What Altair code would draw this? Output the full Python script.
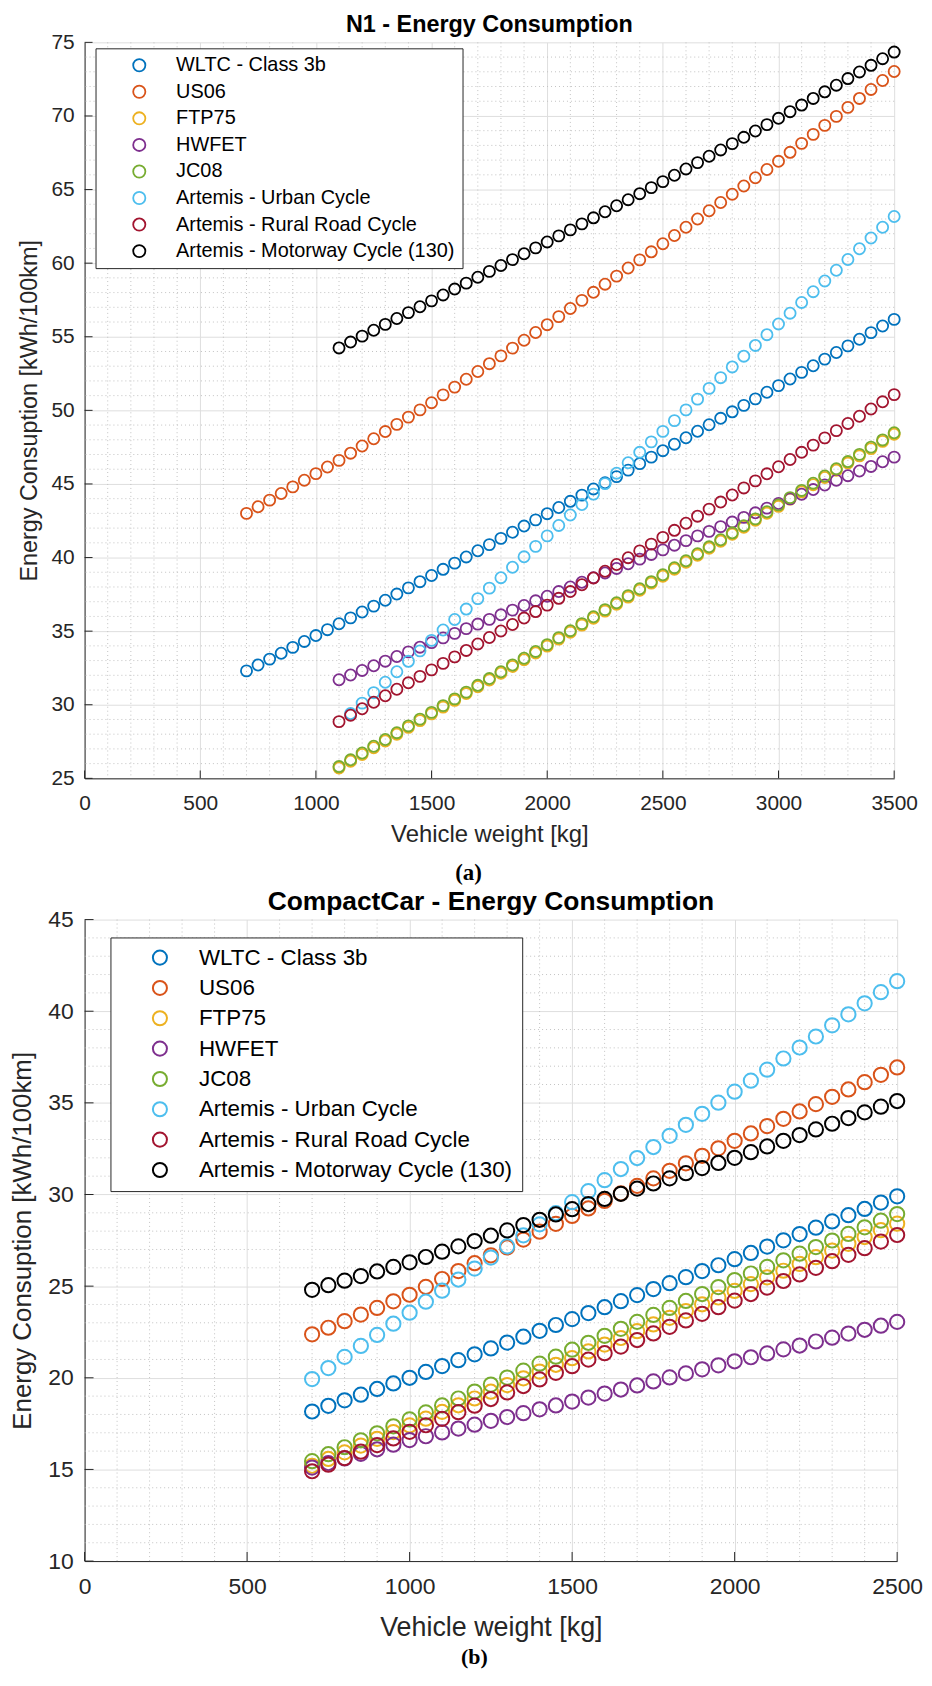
import altair as alt
import pandas as pd

FONT = "Liberation Sans"
INK = "#262626"

SERIES = ["WLTC - Class 3b", "US06", "FTP75", "HWFET", "JC08",
          "Artemis - Urban Cycle", "Artemis - Rural Road Cycle",
          "Artemis - Motorway Cycle (130)"]
COLORS = ["#0072BD", "#D95319", "#EDB120", "#7E2F8E", "#77AC30",
          "#4DBEEE", "#A2142F", "#000000"]

# vehicle weights [kg] (markers every 50 kg)
WEIGHT = [700, 750, 800, 850, 900, 950, 1000, 1050, 1100, 1150, 1200, 1250,
          1300, 1350, 1400, 1450, 1500, 1550, 1600, 1650, 1700, 1750, 1800,
          1850, 1900, 1950, 2000, 2050, 2100, 2150, 2200, 2250, 2300, 2350,
          2400, 2450, 2500, 2550, 2600, 2650, 2700, 2750, 2800, 2850, 2900,
          2950, 3000, 3050, 3100, 3150, 3200, 3250, 3300, 3350, 3400, 3450, 3500]

# ---------------- (a) N1 (series end at 3500 kg) ----------------
N1_WLTC = [32.30, 32.70, 33.10, 33.50, 33.90, 34.30, 34.70, 35.10, 35.50, 35.90,
           36.30, 36.70, 37.10, 37.52, 37.94, 38.36, 38.78, 39.20, 39.62, 40.04,
           40.46, 40.88, 41.30, 41.72, 42.14, 42.56, 42.98, 43.40, 43.82, 44.24,
           44.66, 45.08, 45.50, 45.94, 46.38, 46.82, 47.26, 47.70, 48.14, 48.58,
           49.02, 49.46, 49.90, 50.34, 50.78, 51.23, 51.68, 52.13, 52.58, 53.03,
           53.48, 53.93, 54.38, 54.83, 55.28, 55.73, 56.18]
N1_US06 = [43.00, 43.45, 43.90, 44.35, 44.80, 45.25, 45.70, 46.15, 46.60, 47.09,
           47.58, 48.07, 48.56, 49.05, 49.54, 50.03, 50.52, 51.05, 51.58, 52.11,
           52.64, 53.17, 53.70, 54.23, 54.76, 55.29, 55.82, 56.37, 56.92, 57.47,
           58.02, 58.57, 59.12, 59.67, 60.22, 60.77, 61.32, 61.88, 62.44, 63.00,
           63.56, 64.12, 64.68, 65.24, 65.80, 66.36, 66.92, 67.53, 68.14, 68.75,
           69.36, 69.97, 70.58, 71.19, 71.80, 72.41, 73.02]
N1_FTP75 = [25.70, 26.16, 26.62, 27.08, 27.54, 28.00, 28.46, 28.92, 29.38, 29.84,
            30.30, 30.76, 31.22, 31.68, 32.14, 32.60, 33.06, 33.52, 33.98, 34.46,
            34.93, 35.41, 35.88, 36.36, 36.83, 37.31, 37.78, 38.26, 38.73, 39.21,
            39.68, 40.16, 40.63, 41.11, 41.58, 42.06, 42.53, 43.01, 43.48, 43.97,
            44.46, 44.95, 45.44, 45.93, 46.42, 46.91, 47.40, 47.89, 48.38]
N1_HWFET = [31.70, 32.02, 32.33, 32.65, 32.96, 33.28, 33.59, 33.91, 34.22, 34.54,
            34.85, 35.17, 35.48, 35.80, 36.11, 36.43, 36.74, 37.06, 37.37, 37.69,
            38.00, 38.32, 38.63, 38.95, 39.26, 39.58, 39.89, 40.21, 40.52, 40.84,
            41.15, 41.47, 41.78, 42.10, 42.41, 42.73, 43.04, 43.36, 43.67, 43.99,
            44.30, 44.62, 44.93, 45.25, 45.56, 45.88, 46.19, 46.51, 46.82]
N1_JC08 = [25.80, 26.26, 26.72, 27.18, 27.64, 28.10, 28.56, 29.02, 29.48, 29.94,
           30.40, 30.86, 31.32, 31.78, 32.24, 32.70, 33.16, 33.62, 34.08, 34.56,
           35.03, 35.51, 35.98, 36.46, 36.93, 37.41, 37.88, 38.36, 38.83, 39.31,
           39.78, 40.26, 40.73, 41.21, 41.68, 42.16, 42.63, 43.11, 43.58, 44.07,
           44.56, 45.05, 45.54, 46.03, 46.52, 47.01, 47.50, 47.99, 48.48]
N1_URBAN = [29.40, 30.11, 30.82, 31.53, 32.24, 32.95, 33.66, 34.37, 35.08, 35.79,
            36.50, 37.21, 37.92, 38.63, 39.34, 40.05, 40.76, 41.47, 42.18, 42.89,
            43.60, 44.31, 45.02, 45.73, 46.44, 47.15, 47.86, 48.57, 49.30, 50.03,
            50.76, 51.49, 52.22, 52.95, 53.68, 54.41, 55.14, 55.87, 56.60, 57.33,
            58.06, 58.79, 59.52, 60.25, 60.98, 61.71, 62.44, 63.17]
N1_RURAL = [28.85, 29.29, 29.73, 30.17, 30.61, 31.05, 31.49, 31.93, 32.37, 32.81,
            33.25, 33.69, 34.13, 34.57, 35.01, 35.45, 35.89, 36.33, 36.77, 37.23,
            37.69, 38.15, 38.61, 39.07, 39.53, 39.99, 40.45, 40.91, 41.37, 41.85,
            42.33, 42.81, 43.29, 43.77, 44.25, 44.73, 45.21, 45.69, 46.17, 46.66,
            47.15, 47.64, 48.13, 48.62, 49.11, 49.60, 50.09, 50.58, 51.07]
N1_MOTORWAY = [54.24, 54.64, 55.04, 55.44, 55.84, 56.24, 56.64, 57.04, 57.44, 57.84,
               58.24, 58.64, 59.04, 59.44, 59.84, 60.24, 60.64, 61.04, 61.44, 61.85,
               62.26, 62.67, 63.08, 63.49, 63.90, 64.31, 64.72, 65.13, 65.54, 65.97,
               66.40, 66.83, 67.26, 67.69, 68.12, 68.55, 68.98, 69.41, 69.84, 70.29,
               70.74, 71.19, 71.64, 72.09, 72.54, 72.99, 73.44, 73.89, 74.34]

# ---------------- (b) CompactCar (700 .. 2500 kg) ----------------
CC_WLTC = [18.16, 18.47, 18.77, 19.08, 19.39, 19.69, 20.00, 20.32, 20.64, 20.96,
           21.28, 21.60, 21.92, 22.24, 22.56, 22.88, 23.20, 23.53, 23.85, 24.18,
           24.51, 24.84, 25.16, 25.49, 25.82, 26.14, 26.47, 26.81, 27.16, 27.50,
           27.84, 28.19, 28.53, 28.87, 29.21, 29.56, 29.90]
CC_US06 = [22.37, 22.73, 23.09, 23.45, 23.81, 24.17, 24.53, 24.96, 25.39, 25.82,
           26.25, 26.68, 27.11, 27.54, 27.97, 28.40, 28.83, 29.24, 29.65, 30.06,
           30.47, 30.88, 31.29, 31.70, 32.11, 32.52, 32.93, 33.33, 33.73, 34.13,
           34.53, 34.93, 35.33, 35.73, 36.13, 36.53, 36.93]
CC_FTP75 = [15.20, 15.57, 15.93, 16.30, 16.67, 17.04, 17.40, 17.77, 18.14, 18.50,
            18.87, 19.24, 19.60, 19.97, 20.34, 20.71, 21.07, 21.44, 21.81, 22.17,
            22.54, 22.91, 23.27, 23.64, 24.01, 24.38, 24.74, 25.11, 25.48, 25.84,
            26.21, 26.58, 26.94, 27.31, 27.68, 28.05, 28.41]
CC_HWFET = [15.10, 15.35, 15.60, 15.85, 16.10, 16.35, 16.60, 16.81, 17.02, 17.23,
            17.44, 17.65, 17.86, 18.07, 18.28, 18.49, 18.70, 18.92, 19.14, 19.36,
            19.58, 19.80, 20.02, 20.24, 20.46, 20.68, 20.90, 21.12, 21.33, 21.55,
            21.76, 21.98, 22.19, 22.41, 22.62, 22.84, 23.05]
CC_JC08 = [15.45, 15.83, 16.21, 16.59, 16.97, 17.35, 17.73, 18.11, 18.49, 18.87,
           19.25, 19.63, 20.01, 20.39, 20.77, 21.15, 21.53, 21.91, 22.29, 22.67,
           23.05, 23.43, 23.81, 24.19, 24.57, 24.95, 25.33, 25.69, 26.05, 26.41,
           26.77, 27.13, 27.49, 27.85, 28.21, 28.57, 28.93]
CC_URBAN = [19.93, 20.53, 21.14, 21.74, 22.34, 22.95, 23.55, 24.15, 24.75, 25.36,
            25.96, 26.56, 27.17, 27.77, 28.37, 28.98, 29.58, 30.18, 30.78, 31.39,
            31.99, 32.59, 33.20, 33.80, 34.40, 35.01, 35.61, 36.21, 36.81, 37.42,
            38.02, 38.62, 39.23, 39.83, 40.43, 41.04, 41.64]
CC_RURAL = [14.90, 15.26, 15.62, 15.97, 16.33, 16.69, 17.05, 17.41, 17.76, 18.12,
            18.48, 18.84, 19.20, 19.55, 19.91, 20.27, 20.63, 20.99, 21.34, 21.70,
            22.06, 22.42, 22.78, 23.13, 23.49, 23.85, 24.21, 24.57, 24.92, 25.28,
            25.64, 26.00, 26.36, 26.71, 27.07, 27.43, 27.79]
CC_MOTORWAY = [24.80, 25.05, 25.30, 25.55, 25.80, 26.05, 26.30, 26.59, 26.88, 27.17,
               27.46, 27.75, 28.04, 28.33, 28.62, 28.91, 29.20, 29.48, 29.76, 30.04,
               30.32, 30.60, 30.88, 31.16, 31.44, 31.72, 32.00, 32.31, 32.62, 32.93,
               33.24, 33.55, 33.86, 34.17, 34.48, 34.79, 35.10]

# axis ticks
N1_XTICKS = [0, 500, 1000, 1500, 2000, 2500, 3000, 3500]
N1_YTICKS = [25, 30, 35, 40, 45, 50, 55, 60, 65, 70, 75]
CC_XTICKS = [0, 500, 1000, 1500, 2000, 2500]
CC_YTICKS = [10, 15, 20, 25, 30, 35, 40, 45]
N1_XMINOR = [v for v in range(100, 3500, 100) if v % 500]
N1_YMINOR = [v for v in range(26, 75) if v % 5]
CC_XMINOR = [v for v in range(100, 2500, 100) if v % 500]
CC_YMINOR = [v for v in range(11, 45) if v % 5]


def make_df(weights, series_values):
    rows = []
    for k, (name, vals) in enumerate(zip(SERIES, series_values)):
        ws = weights[len(weights) - len(vals):]
        for w, v in zip(ws, vals):
            rows.append({"weight": w, "value": v, "series": name, "k": k})
    return pd.DataFrame(rows)


def panel(df, title, xdom, ydom, xticks, yticks, xminor, yminor, W, H, s):
    xs = alt.Scale(domain=xdom, nice=False, zero=False)
    ys = alt.Scale(domain=ydom, nice=False, zero=False)
    common = dict(grid=True, gridColor="#dedede", gridWidth=1,
                  domainColor=INK, domainWidth=1, ticks=False, format="d",
                  labelFont=FONT, labelColor=INK, labelFontSize=s["lab"],
                  titleFont=FONT, titleColor=INK, titleFontWeight="normal",
                  labelFlush=False, labelOverlap=False)
    xaxis = alt.Axis(values=xticks, title="Vehicle weight [kg]",
                     labelPadding=s["xlp"], titlePadding=s["xtp"],
                     titleFontSize=s["xtitle"], **common)
    yaxis = alt.Axis(values=yticks, title="Energy Consuption [kWh/100km]",
                     labelPadding=s["ylp"], titlePadding=s["ytp"],
                     titleFontSize=s["ytitle"], **common)
    minor_style = dict(stroke="#c2c2c2", strokeWidth=1, strokeDash=[1, 3])
    gx = alt.Chart(pd.DataFrame({"weight": xminor})).mark_rule(**minor_style).encode(
        x=alt.X("weight:Q", scale=xs, axis=xaxis))
    gy = alt.Chart(pd.DataFrame({"value": yminor})).mark_rule(**minor_style).encode(
        y=alt.Y("value:Q", scale=ys, axis=yaxis))
    # inward major tick marks (MATLAB style) on the bottom and left axes
    tl = s["tick"]
    tx = alt.Chart(pd.DataFrame({"weight": xticks, "value": [ydom[0]] * len(xticks)})).mark_tick(
        orient="vertical", size=tl, thickness=1, color=INK, opacity=1, yOffset=-tl / 2).encode(
        x=alt.X("weight:Q", scale=xs, axis=xaxis), y=alt.Y("value:Q", scale=ys, axis=yaxis))
    ty = alt.Chart(pd.DataFrame({"weight": [xdom[0]] * len(yticks), "value": yticks})).mark_tick(
        orient="horizontal", size=tl, thickness=1, color=INK, opacity=1, xOffset=tl / 2).encode(
        x=alt.X("weight:Q", scale=xs, axis=xaxis), y=alt.Y("value:Q", scale=ys, axis=yaxis))
    pts = alt.Chart(df).mark_point(shape="circle", filled=False, size=s["psize"],
                                   strokeWidth=s["psw"], opacity=1).encode(
        x=alt.X("weight:Q", scale=xs, axis=xaxis),
        y=alt.Y("value:Q", scale=ys, axis=yaxis),
        color=alt.Color("series:N",
                        scale=alt.Scale(domain=SERIES, range=COLORS),
                        legend=alt.Legend(title=None, orient="none", direction="vertical",
                                          legendX=s["lx"], legendY=s["ly"],
                                          padding=s["lpad"], symbolOffset=s["soff"],
                                          labelOffset=s["loff"], rowPadding=s["rowp"],
                                          labelFont=FONT, labelFontSize=s["lfs"],
                                          labelColor="#000000", labelLimit=600,
                                          symbolType="circle", symbolSize=s["ssize"],
                                          symbolStrokeWidth=s["psw"], symbolFillColor="transparent",
                                          strokeColor=INK, fillColor="#ffffff")),
        order=alt.Order("k:Q"),
    )
    cap = alt.Chart(pd.DataFrame({"t": [s["cap"]]})).mark_text(
        font="Liberation Serif", fontSize=s["capfs"], fontWeight="bold", color="#000000",
        baseline="middle", align="center").encode(
        text="t:N", x=alt.value(s["capx"]), y=alt.value(s["capy"]))
    return alt.layer(gx, gy, tx, ty, pts, cap).properties(
        width=W, height=H,
        title=alt.TitleParams(title, font=FONT, fontSize=s["tfs"], fontWeight="bold",
                              color="#000000", offset=s["toff"], frame="group"))


dfa = make_df(WEIGHT, [N1_WLTC, N1_US06, N1_FTP75, N1_HWFET, N1_JC08,
                       N1_URBAN, N1_RURAL, N1_MOTORWAY])
dfb = make_df(WEIGHT[:37], [CC_WLTC, CC_US06, CC_FTP75, CC_HWFET, CC_JC08,
                            CC_URBAN, CC_RURAL, CC_MOTORWAY])

sa = dict(lab=21, xlp=14.5, ylp=10.5, xtp=8.6, ytp=9.5, xtitle=24, ytitle=23.5,
          psize=125, psw=1.8, lx=11, ly=6, lpad=7, soff=27, loff=27, rowp=6.7,
          lfs=20, ssize=150, cap="(a)", capfs=23, capx=386, capy=835, tfs=23.5, toff=-5,
          tick=8)
sb = dict(lab=23, xlp=14.5, ylp=11.5, xtp=16, ytp=12, xtitle=27, ytitle=26,
          psize=205, psw=2.0, lx=26, ly=18, lpad=9, soff=29.5, loff=28, rowp=7.5,
          lfs=22.5, ssize=200, cap="(b)", capfs=22, capx=392, capy=741, tfs=26.5, toff=-6.7,
          tick=9)

ca = panel(dfa, "N1 - Energy Consumption", [0, 3500], [25, 75], N1_XTICKS, N1_YTICKS,
           N1_XMINOR, N1_YMINOR, 814, 740, sa)
cb = panel(dfb, "CompactCar - Energy Consumption", [0, 2500], [10, 45], CC_XTICKS, CC_YTICKS,
           CC_XMINOR, CC_YMINOR, 817, 645, sb)

chart = alt.vconcat(ca, cb, spacing=142, bounds="flush").resolve_scale(
    color="independent").resolve_legend(color="independent").properties(
    padding={"left": 1, "top": 0, "right": 0, "bottom": 0}
).configure(font=FONT, background="#ffffff").configure_view(stroke="transparent")

chart.save("out.html", embed_options={"renderer": "svg", "actions": False})
